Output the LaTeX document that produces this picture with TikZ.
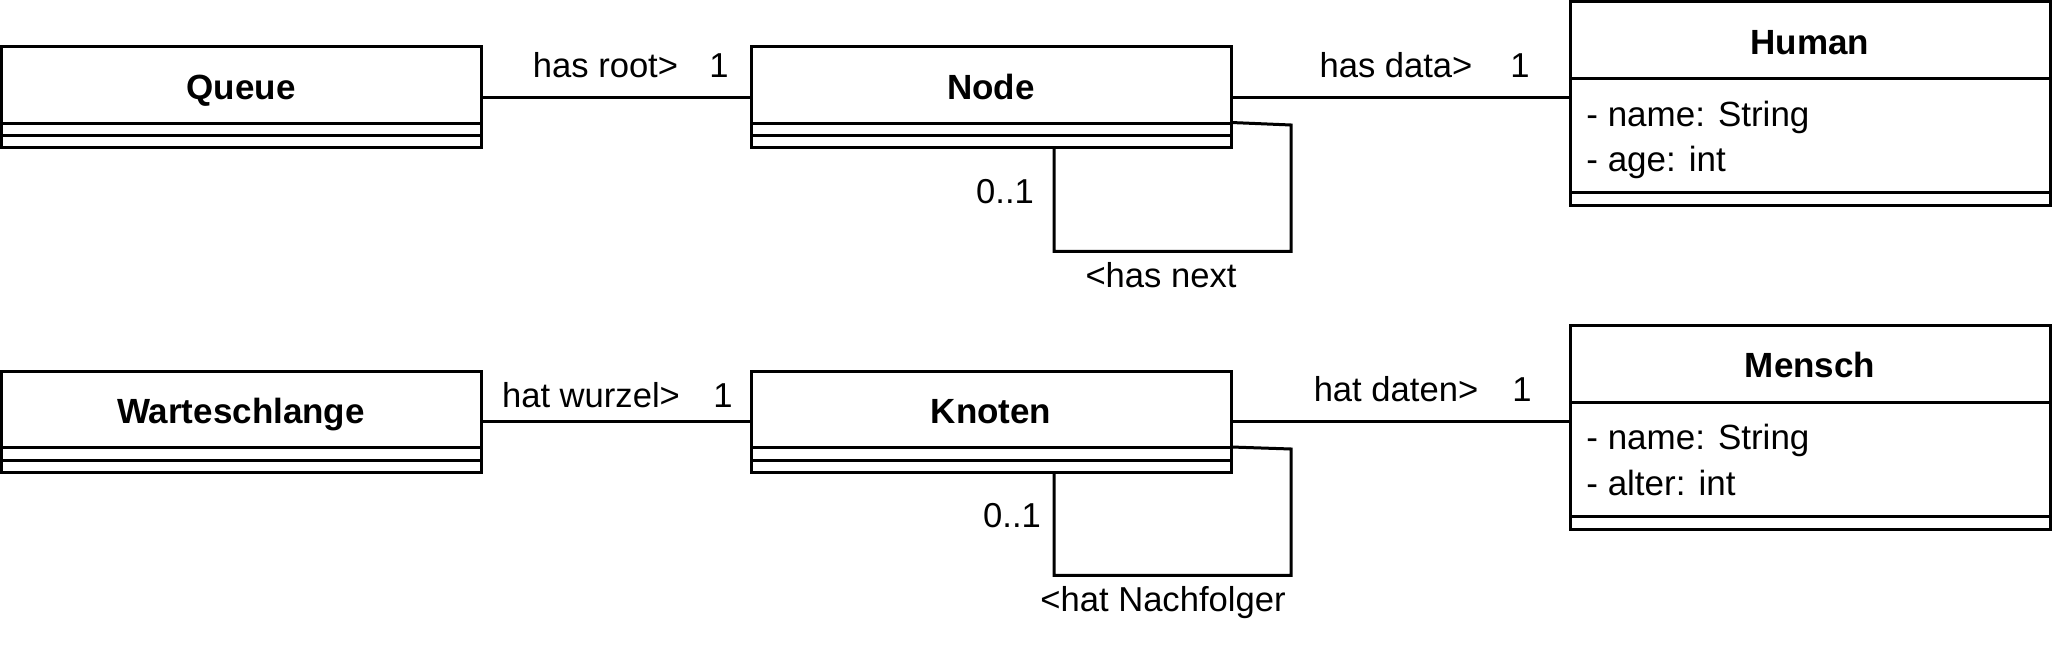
\documentclass[tikz,border=0pt]{standalone}
\usepackage{fontspec}
\setmainfont{Liberation Sans}
\usetikzlibrary{calc}
\tikzset{
  cls/.style={draw, line width=1.5pt, minimum width=240pt, inner sep=0pt, outer sep=0pt},
  ttl/.style={font=\bfseries\fontsize{17.5}{21}\selectfont, inner sep=0pt, anchor=base},
  attr/.style={font=\fontsize{17.5}{21}\selectfont, inner sep=0pt, anchor=base west},
  lbl/.style={font=\fontsize{17.3}{21}\selectfont, inner sep=0pt, anchor=base},
  conn/.style={line width=1.5pt, line join=miter},
  sep/.style={line width=1.5pt},
}
\begin{document}
\begin{tikzpicture}[x=0.5pt,y=-0.5pt]
\useasboundingbox (0,0) rectangle (2052,651);
% ---------- upper diagram ----------
\node[cls, minimum height=50.5pt] (queue) at (241,97.5) {};
\node[cls, minimum height=50.5pt] (node) at (991,97.5) {};
\node[cls, minimum height=102pt] (human) at (1810,104) {};
\node[ttl] (queuet) at (241,99.3) {Queue};
\node[ttl] (nodet) at (991,99.3) {Node};
\node[ttl] (humant) at (1810,54.5) {Human};
\node[attr] (humana1) at (1586,126.5) {- name: String};
\node[attr] (humana2) at (1586,172) {- age: int};
\foreach \c in {queue,node}{
  \draw[sep] ($(\c.north west)+(0,76.5)$) -- ($(\c.north east)+(0,76.5)$);
  \draw[sep] ($(\c.north west)+(0,89)$) -- ($(\c.north east)+(0,89)$);
}
\draw[sep] ($(human.north west)+(0,77)$) -- ($(human.north east)+(0,77)$);
\draw[sep] ($(human.north west)+(0,191)$) -- ($(human.north east)+(0,191)$);
\draw[conn] (queue.east) -- (node.west);
\draw[conn] (node.east) -- (node.east -| human.west);
\coordinate (nl1) at (1291,125);
\coordinate (nl2) at (1291,251.5);
\coordinate (nl3) at (1054,251.5);
\draw[conn] ($(node.north east)+(0,75.5)$) -- (nl1) -- (nl2) -- (nl3) -- (nl3 |- node.south);
\node[lbl] (l1) at (605.5,78) {has root>};
\node[lbl] (l2) at (719,78) {1};
\node[lbl] (l3) at (1396,78) {has data>};
\node[lbl] (l4) at (1520,78) {1};
\node[lbl] (l5) at (1005,204) {0..1};
\node[lbl] (l6) at (1161,288) {<has next};
% ---------- lower diagram ----------
\node[cls, minimum height=50.5pt] (wart) at (241,422) {};
\node[cls, minimum height=50.5pt] (knoten) at (991,422) {};
\node[cls, minimum height=102pt] (mensch) at (1810,427.5) {};
\node[ttl] (wartt) at (241,423.3) {Warteschlange};
\node[ttl] (knotent) at (991,423.3) {Knoten};
\node[ttl] (menscht) at (1810,378) {Mensch};
\node[attr] (menscha1) at (1586,450) {- name: String};
\node[attr] (menscha2) at (1586,495.5) {- alter: int};
\foreach \c in {wart,knoten}{
  \draw[sep] ($(\c.north west)+(0,76.5)$) -- ($(\c.north east)+(0,76.5)$);
  \draw[sep] ($(\c.north west)+(0,89)$) -- ($(\c.north east)+(0,89)$);
}
\draw[sep] ($(mensch.north west)+(0,77)$) -- ($(mensch.north east)+(0,77)$);
\draw[sep] ($(mensch.north west)+(0,191)$) -- ($(mensch.north east)+(0,191)$);
\draw[conn] (wart.east) -- (knoten.west);
\draw[conn] (knoten.east) -- (knoten.east -| mensch.west);
\coordinate (kl1) at (1291,449);
\coordinate (kl2) at (1291,575.5);
\coordinate (kl3) at (1054,575.5);
\draw[conn] ($(knoten.north east)+(0,75.5)$) -- (kl1) -- (kl2) -- (kl3) -- (kl3 |- knoten.south);
\node[lbl] (m1) at (591,407.5) {hat wurzel>};
\node[lbl] (m2) at (723,407.5) {1};
\node[lbl] (m3) at (1396,402) {hat daten>};
\node[lbl] (m4) at (1522,402) {1};
\node[lbl] (m5) at (1012,528) {0..1};
\node[lbl] (m6) at (1163,612) {<hat Nachfolger};
\end{tikzpicture}
\end{document}
